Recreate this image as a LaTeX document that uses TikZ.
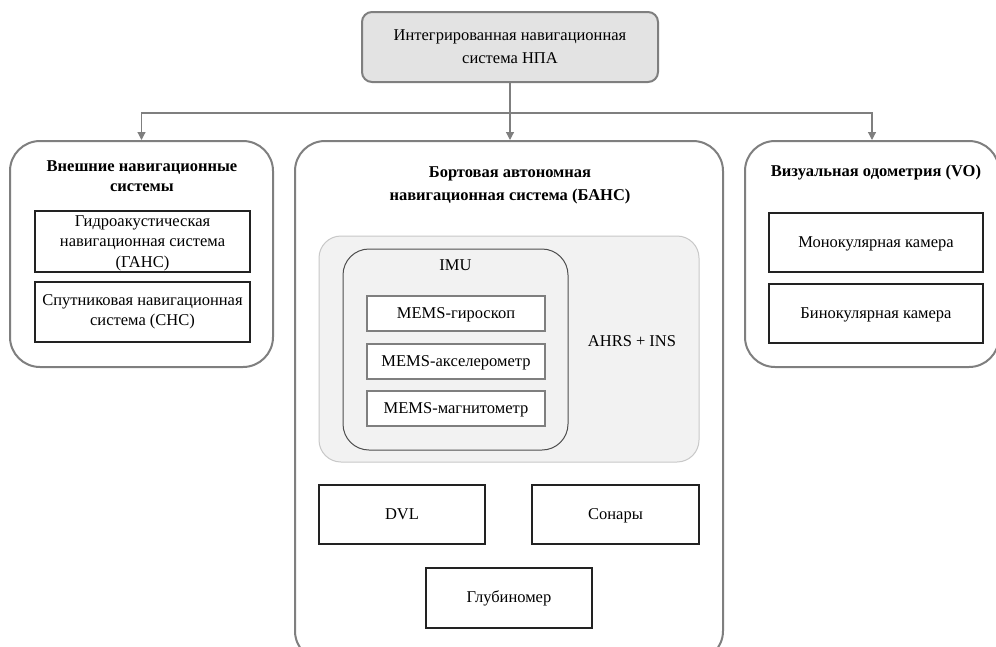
\documentclass[tikz,border=0pt]{standalone}
\usepackage{fontspec}
\setmainfont{Liberation Serif}
\usetikzlibrary{arrows.meta}
\definecolor{edgegray}{HTML}{7F7F7F}
\definecolor{topfill}{HTML}{E3E3E3}
\definecolor{areafill}{HTML}{F2F2F2}
\definecolor{arealine}{HTML}{C8C8C8}
\definecolor{boxline}{HTML}{222222}
\tikzset{
  every node/.style={font=\fontsize{16.5}{23}\selectfont, align=center, inner sep=0pt},
  topbox/.style={draw=edgegray, line width=2pt, fill=topfill, rounded corners=10pt},
  groupbox/.style={draw=edgegray, line width=2pt, fill=white, rounded corners=30pt},
  areabox/.style={draw=arealine, line width=1pt, fill=areafill, rounded corners=22pt},
  imubox/.style={draw=boxline!80, line width=1pt, fill=areafill, rounded corners=26pt},
  itembox/.style={draw=boxline, line width=1.2pt, fill=white},
  memsbox/.style={draw=edgegray, line width=1.2pt, fill=white},
  titletext/.style={font=\fontsize{16.5}{23}\selectfont\bfseries},
  tighttitle/.style={font=\fontsize{16.5}{20}\selectfont\bfseries},
  tight/.style={font=\fontsize{16.5}{20.5}\selectfont},
  conn/.style={draw=edgegray, line width=1.2pt},
  arr/.style={conn, -{Triangle[length=8pt,width=8pt]}}
}
\begin{document}
\begin{tikzpicture}[x=1pt,y=-1pt]
\useasboundingbox (0,0) rectangle (996,646);
% top
\node[topbox, minimum width=296pt, minimum height=70pt] (top) at (510,47) {Интегрированная навигационная\\система НПА};
% groups
\node[groupbox, minimum width=263pt, minimum height=226pt] (ext) at (141.5,254) {};
\node[groupbox, minimum width=428pt, minimum height=520pt] (bans) at (509,401) {};
\node[groupbox, minimum width=254pt, minimum height=226pt] (vo) at (872,254) {};
% connectors
\coordinate (j) at (510,113);
\draw[conn] (top) -- (j);
\draw[arr] (j) -- (j |- bans.north);
\draw[arr] (j) -| (ext.north);
\draw[arr] (j) -| (vo.north);
% left group
\node[tighttitle] (extt) at (142,176) {Внешние навигационные\\системы};
\node[itembox, tight, minimum width=215pt, minimum height=61pt] (gans) at (142.5,241.5) {\strut Гидроакустическая\\навигационная система\\(ГАНС)};
\node[itembox, tight, minimum width=215pt, minimum height=60pt] (sns) at (142.5,312) {Спутниковая навигационная\\система (СНС)};
% right group
\node[titletext] (vot) at (876,172) {\strut Визуальная одометрия (VO)};
\node[itembox, minimum width=214pt, minimum height=59pt] (mono) at (876,242.5) {\strut Монокулярная камера};
\node[itembox, minimum width=214pt, minimum height=59pt] (bino) at (876,313.5) {\strut Бинокулярная камера};
% middle group
\node[titletext] (banst) at (510,185) {Бортовая автономная\\навигационная система (БАНС)};
\node[areabox, minimum width=380pt, minimum height=226pt] (ahrs) at (509,349) {};
\node (ahrst) at (632,342) {\strut AHRS + INS};
\node[imubox, minimum width=225pt, minimum height=201pt] (imu) at (455.5,349.5) {};
\node (imut) at (455.5,266) {\strut IMU};
\node[memsbox, minimum width=178pt, minimum height=35pt] (gyro) at (456,313.5) {\strut MEMS-гироскоп};
\node[memsbox, minimum width=178pt, minimum height=35pt] (acc) at (456,361.5) {\strut MEMS-акселерометр};
\node[memsbox, minimum width=178pt, minimum height=35pt] (mag) at (456,408.5) {\strut MEMS-магнитометр};
\node[itembox, minimum width=166pt, minimum height=59pt] (dvl) at (402,514.5) {\strut DVL};
\node[itembox, minimum width=167pt, minimum height=59pt] (sonar) at (615.5,514.5) {\strut Сонары};
\node[itembox, minimum width=166pt, minimum height=60pt] (depth) at (509,598) {\strut Глубиномер};
\end{tikzpicture}
\end{document}
